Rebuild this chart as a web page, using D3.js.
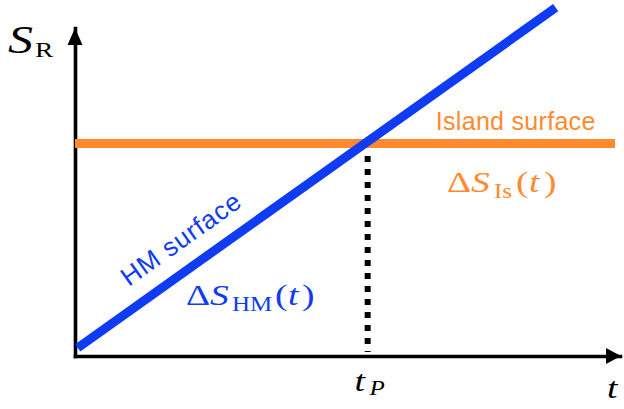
<!DOCTYPE html>
<html>
<head>
<meta charset="utf-8">
<script src="https://cdn.jsdelivr.net/npm/d3@7"></script>
<style>
  html, body { margin: 0; padding: 0; background: #fff; }
  svg { display: block; }
  .math { font-family: "Liberation Serif", "DejaVu Serif", serif; }
  .sans { font-family: "Liberation Sans", Arial, sans-serif; }
</style>
</head>
<body>
<svg id="chart" width="624" height="409"></svg>
<script>
// Schematic: entropy of radiation S_R versus time t
const tDomain = [0, 10];
const sDomain = [0, 10];
const tP = 5.33;                  // crossing time
const islandLevel = 6.48;         // constant island-surface entropy
const hmLine = [                  // growing HM-surface entropy
  { t: 0.05, s: 0.25 },
  { t: 8.82, s: 10.62 }
];
const islandLine = [
  { t: 0.00, s: islandLevel },
  { t: 9.91, s: islandLevel }
];
const dropLine = [
  { t: tP + 0.04, s: 6.10 },
  { t: tP + 0.04, s: 0.12 }
];

const BLUE = "#0f3cf2";
const ORANGE = "#ff8a2f";

const svg = d3.select("#chart");
const x = d3.scaleLinear().domain(tDomain).range([75, 620]);
const y = d3.scaleLinear().domain(sDomain).range([356, 28]);

const line = d3.line().x(d => x(d.t)).y(d => y(d.s));

// axes (no ticks, arrow-tipped)
const gx = svg.append("g").attr("transform", `translate(0,${y(0)})`)
  .call(d3.axisBottom(x).tickValues([]).tickSizeOuter(0));
const gy = svg.append("g").attr("transform", `translate(${x(0)},0)`)
  .call(d3.axisLeft(y).tickValues([]).tickSizeOuter(0));
[gx, gy].forEach(g => g.select(".domain")
  .attr("stroke", "#000").attr("stroke-width", 3.6).attr("stroke-linecap", "square"));

const x0 = x(0), y0 = y(0), xEnd = x(tDomain[1]), yEnd = y(sDomain[1]);
svg.append("path")
  .attr("d", `M${xEnd + 1},${y0} L${xEnd - 14},${y0 - 8} L${xEnd - 14},${y0 + 8} Z`)
  .attr("fill", "#000");
svg.append("path")
  .attr("d", `M${x0},${yEnd} L${x0 - 7.5},${yEnd + 17} L${x0 + 7.5},${yEnd + 17} Z`)
  .attr("fill", "#000");

// island surface
svg.append("path").datum(islandLine).attr("d", line)
  .attr("fill", "none").attr("stroke", ORANGE).attr("stroke-width", 9);

// dotted drop line at t_P
svg.append("path").datum(dropLine).attr("d", line)
  .attr("fill", "none").attr("stroke", "#000").attr("stroke-width", 6)
  .attr("stroke-dasharray", "6,7");

// HM surface
svg.append("path").datum(hmLine).attr("d", line)
  .attr("fill", "none").attr("stroke", BLUE).attr("stroke-width", 9)
  .attr("stroke-linecap", "butt");

// math labels: serif glyphs widened a little, each piece at its own x offset
const SX = 1.25;
function mathLabel(ox, oy, fill, parts) {
  const g = svg.append("g")
    .attr("transform", `translate(${ox},${oy}) scale(${SX},1)`);
  const t = g.append("text").attr("class", "math").attr("fill", fill);
  parts.forEach(p => {
    t.append("tspan")
      .attr("x", p.x / SX)
      .attr("y", p.dy || 0)
      .attr("font-style", p.italic ? "italic" : "normal")
      .attr("font-size", p.size)
      .text(p.text);
  });
  return g;
}

// y-axis title
mathLabel(8, 53, "#000", [
  { text: "S", italic: true, size: 40, x: 0 },
  { text: "R", size: 22, x: 27, dy: 4 }
]);

// x-axis title
mathLabel(607, y0 + 42, "#000", [
  { text: "t", italic: true, size: 30, x: 0 }
]);

// t_P under the crossing
mathLabel(x(tP) - 11, y0 + 35, "#000", [
  { text: "t", italic: true, size: 30, x: 0 },
  { text: "P", italic: true, size: 20, x: 15, dy: 4 }
]);

// island labels
svg.append("text").attr("class", "sans")
  .attr("x", x(6.62)).attr("y", y(islandLevel) - 13.5)
  .attr("font-size", 25).attr("letter-spacing", 0.3).attr("fill", ORANGE)
  .text("Island surface");

mathLabel(447, y(islandLevel) + 49, ORANGE, [
  { text: "Δ", size: 30, x: 0 },
  { text: "S", italic: true, size: 30, x: 24 },
  { text: "Is", size: 20, x: 47, dy: 6 },
  { text: "(", size: 30, x: 69 },
  { text: "t", italic: true, size: 30, x: 82 },
  { text: ")", size: 30, x: 97 }
]);

// HM labels
const p0 = [x(hmLine[0].t), y(hmLine[0].s)];
const p1 = [x(hmLine[1].t), y(hmLine[1].s)];
const ang = Math.atan2(p1[1] - p0[1], p1[0] - p0[0]);
const along = (tt) => {
  const f = (tt - hmLine[0].t) / (hmLine[1].t - hmLine[0].t);
  return [p0[0] + f * (p1[0] - p0[0]), p0[1] + f * (p1[1] - p0[1])];
};
const base = along(1.2);
const off = 20;
const tx = base[0] + Math.sin(ang) * off;
const ty = base[1] - Math.cos(ang) * off;
svg.append("text").attr("class", "sans")
  .attr("transform", `translate(${tx},${ty}) rotate(${ang * 180 / Math.PI})`)
  .attr("font-size", 26).attr("letter-spacing", 0.8).attr("fill", BLUE)
  .text("HM surface");

mathLabel(186, 305, BLUE, [
  { text: "Δ", size: 30, x: 0 },
  { text: "S", italic: true, size: 30, x: 24 },
  { text: "HM", size: 20, x: 46, dy: 6 },
  { text: "(", size: 30, x: 89 },
  { text: "t", italic: true, size: 30, x: 102 },
  { text: ")", size: 30, x: 116 }
]);
</script>
</body>
</html>
